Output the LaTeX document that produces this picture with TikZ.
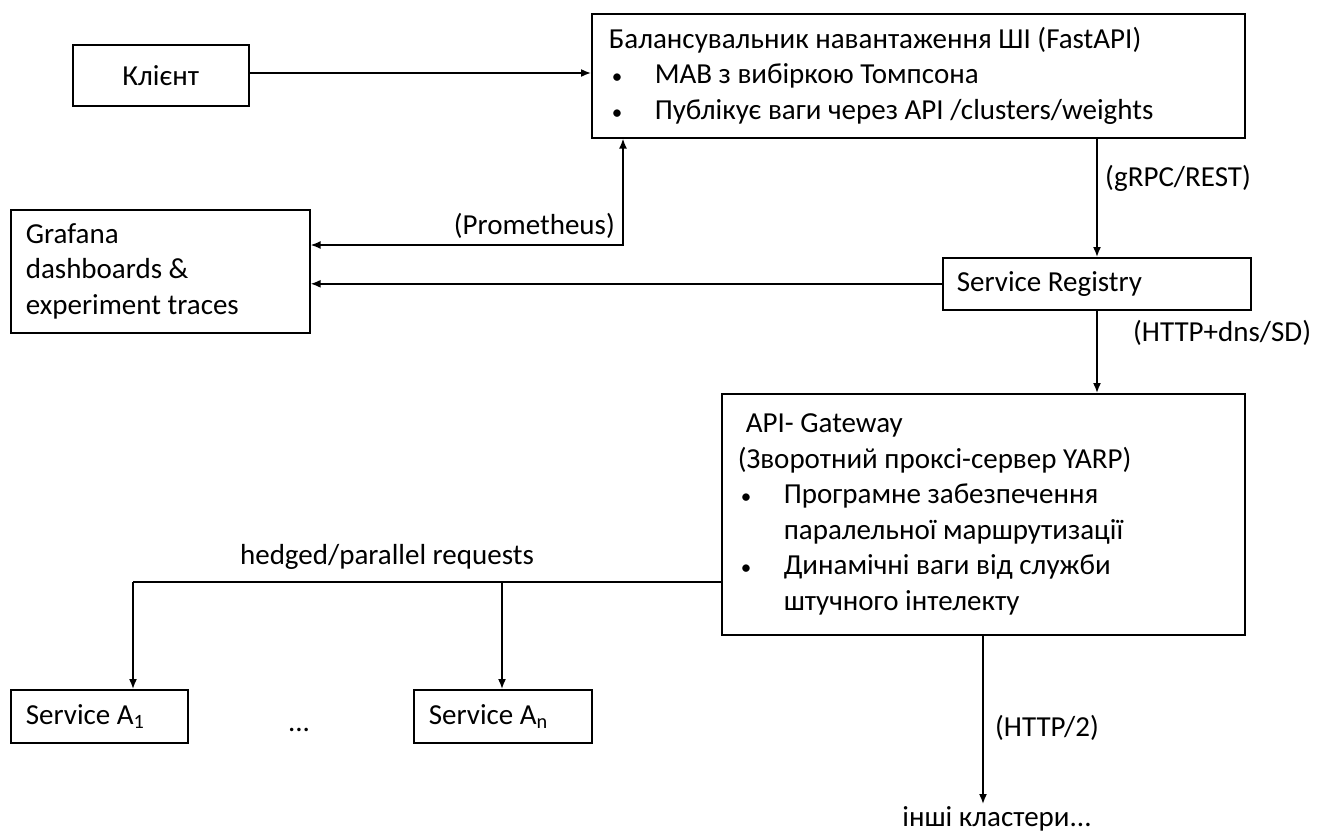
\documentclass[tikz,border=0pt]{standalone}
\usepackage{fontspec}
\setmainfont{Carlito}
\usetikzlibrary{arrows.meta}
\tikzset{
  box/.style={draw, line width=1.6pt, rectangle, anchor=north west, inner ysep=0pt, align=flush left, font=\fontsize{29}{35.5}\selectfont},
  lbl/.style={inner sep=0pt, font=\fontsize{29}{35.5}\selectfont},
  conn/.style={draw, line width=1.6pt, -{Latex[length=10pt,width=8pt]}}
}
\newcommand{\bul}{\hspace*{3pt}\makebox[43pt][l]{\fontsize{21}{21}\selectfont\textbullet}}
\newcommand{\ind}{\hspace*{46pt}}
\begin{document}
\begin{tikzpicture}[x=1pt,y=-1pt]
\useasboundingbox (0,0) rectangle (1331,831);
\node[box, inner xsep=0pt, align=center, minimum width=176pt, minimum height=61pt] (client) at (72,44) {Клієнт};
\node[box, inner xsep=17pt, text width=619pt, minimum height=124pt] (lb) at (591,13) {Балансувальник навантаження ШІ (FastAPI)\\
\bul MAB з вибіркою Томпсона\\
\bul Публікує ваги через API /clusters/weights};
\node[box, inner xsep=15pt, text width=269pt, minimum height=123pt] (graf) at (10,209) {Grafana\\ dashboards \&\\ experiment traces};
\node[box, inner xsep=14pt, text width=280pt, minimum height=52pt] (reg) at (942,257) {Service Registry};
\node[box, inner xsep=16pt, text width=491pt, minimum height=241pt] (gw) at (721,393) {\hspace*{8pt}API- Gateway\\
(Зворотний проксі-сервер YARP)\\
\bul Програмне забезпечення\\
\ind паралельної маршрутизації\\
\bul Динамічні ваги від служби\\
\ind штучного інтелекту};
\node[box, inner xsep=15pt, text width=147pt, minimum height=53pt] (sa1) at (10,689) {Service A\textsubscript{1}};
\node[box, inner xsep=15pt, text width=148pt, minimum height=53pt] (san) at (413,689) {Service A\textsubscript{n}};
\node[lbl, anchor=base] (dots) at (299,731) {...};
\node[lbl, anchor=north, inner sep=2pt] (other) at (997,804) {інші кластери...};
% labels
\node[lbl, anchor=east] (lprom) at (615,226) {(Prometheus)};
\node[lbl, anchor=west] (lgrpc) at (1105,178) {(gRPC/REST)};
\node[lbl, anchor=west] (ldns) at (1133,333) {(HTTP+dns/SD)};
\node[lbl] (lhedge) at (387,557) {hedged/parallel requests};
\node[lbl, anchor=west] (lhttp) at (995,728) {(HTTP/2)};
% helper points
\coordinate (p) at (623,245);
\coordinate (c) at (1097,0);
\coordinate (h) at (133,582);
\coordinate (hn) at (502,582);
\coordinate (o) at (983,0);
% connectors
\path[conn] (client.east |- 0,73) -- (lb.west |- 0,73);
\path[conn, {Latex[length=10pt,width=8pt]}-{Latex[length=10pt,width=8pt]}] (graf.east |- p) -- (p) -- (p |- lb.south);
\path[conn] (lb.south -| c) -- (reg.north -| c);
\path[conn] (reg.west) -- (reg.west -| graf.east);
\path[conn] (reg.south -| c) -- (gw.north -| c);
\path[draw, line width=1.6pt] (gw.west |- h) -- (h);
\path[conn] (h) -- (sa1.north -| h);
\path[conn] (hn) -- (san.north -| hn);
\path[conn] (gw.south -| o) -- (other.north -| o);
\end{tikzpicture}
\end{document}
